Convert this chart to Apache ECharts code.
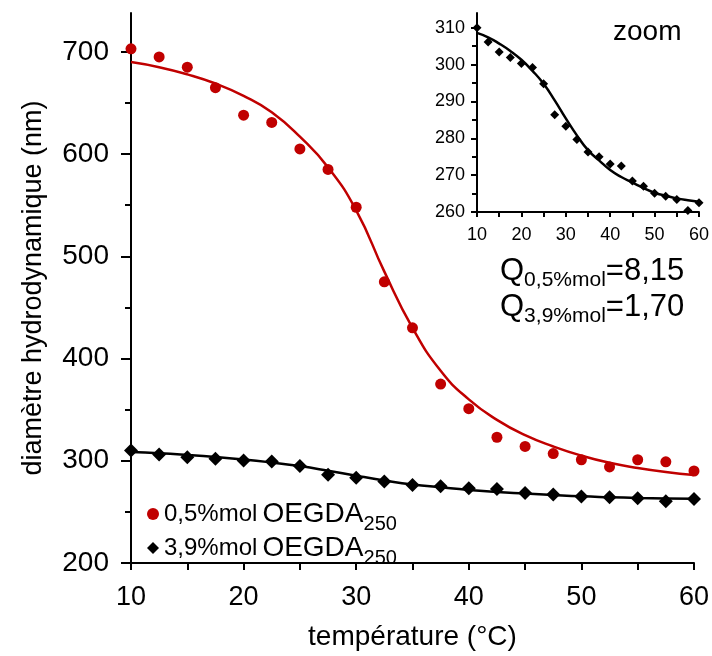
<!DOCTYPE html>
<html><head><meta charset="utf-8">
<script src="https://cdn.jsdelivr.net/npm/echarts@6/dist/echarts.min.js"></script>
<style>html,body{margin:0;padding:0;background:#fff}#c{width:712px;height:656px}</style>
</head><body><div id="c"></div>
<script>
// ---- data ----
const temps = [10,12.5,15,17.5,20,22.5,25,27.5,30,32.5,35,37.5,40,42.5,45,47.5,50,52.5,55,57.5,60];
const diam05 = [703,695,685,665,638,631,605,585,548,475,430,375,351,323,314,307,301,294,301,299,290];
const diam39 = [310.0,306.1,303.4,301.9,300.3,299.2,294.8,286.4,283.3,279.7,276.3,275.0,273.0,272.5,268.4,267.0,265.1,264.3,263.4,260.4,262.5];
const fit05 = [690,685,678,669,657,641,617,587,545,485,430,388,360,340,325,314,305,298,293,289,286];
const fit39 = [308.6,307.4,305.7,303.7,301.3,298.3,294.8,290.3,285.4,280.8,276.8,274.0,271.4,269.5,268.0,266.5,265.2,264.4,263.7,263.2,262.8];
const xLabels = [10,20,30,40,50,60];
const yLabels = [200,300,400,500,600,700];
const yMinorTicks = [250,350,450,550,650];
const insetYLabels = [260,270,280,290,300,310];
const insetYMinor = [265,275,285,295,305];
const name05 = '0,5%mol';
const name39 = '3,9%mol';
const qLines = [['0,5%mol','8,15'],['3,9%mol','1,70']];

const FONT = '"Liberation Sans", Arial, sans-serif';
const RED = '#C00000';
const pairs = (xs, ys) => xs.map((x,i)=>[x, ys[i]]);

const chart = echarts.init(document.getElementById('c'), null, {renderer:'canvas'});
const axisLine = {show:true, lineStyle:{color:'#000', width:2}};
const option = {
  animation:false,
  backgroundColor:'#fff',
  textStyle:{fontFamily:FONT, color:'#000'},
  grid:[
    {left:131, right:16, top:13, bottom:89},
    {left:477, right:13, top:13, bottom:444}
  ],
  xAxis:[
    {gridIndex:0, type:'value', min:10, max:60, interval:5,
     axisLine:axisLine, splitLine:{show:false},
     axisTick:{show:true, length:7, lineStyle:{color:'#000', width:2}},
     axisLabel:{customValues:xLabels, fontSize:27, color:'#000', margin:21, fontFamily:FONT},
     name:'température (°C)', nameLocation:'middle', nameGap:60,
     nameTextStyle:{fontSize:28, color:'#000', fontFamily:FONT}},
    {gridIndex:1, type:'value', min:10, max:60, interval:5,
     axisLine:{show:true, lineStyle:{color:'#000', width:2}}, splitLine:{show:false},
     axisTick:{show:true, length:5, lineStyle:{color:'#000', width:2}},
     axisLabel:{customValues:xLabels, fontSize:18, color:'#000', margin:14, fontFamily:FONT}}
  ],
  yAxis:[
    {gridIndex:0, type:'value', min:200, max:738, position:'left',
     axisLine:axisLine, splitLine:{show:false},
     axisTick:{show:true, customValues:yLabels, length:10, lineStyle:{color:'#000', width:2}},
     axisLabel:{customValues:yLabels, fontSize:28, color:'#000', margin:22, fontFamily:FONT},
     name:'diamètre hydrodynamique (nm)', nameLocation:'middle', nameGap:84,
     nameTextStyle:{fontSize:27, color:'#000', fontFamily:FONT}},
    {gridIndex:0, type:'value', min:200, max:738, position:'left',
     axisLine:{show:false}, splitLine:{show:false},
     axisTick:{show:true, customValues:yMinorTicks, length:6, lineStyle:{color:'#000', width:2}},
     axisLabel:{show:false}},
    {gridIndex:1, type:'value', min:260, max:314, position:'left',
     axisLine:{show:true, lineStyle:{color:'#000', width:2}}, splitLine:{show:false},
     axisTick:{show:true, customValues:insetYLabels, length:6, lineStyle:{color:'#000', width:2}},
     axisLabel:{customValues:insetYLabels, fontSize:18, color:'#000', margin:12, fontFamily:FONT}},
    {gridIndex:1, type:'value', min:260, max:314, position:'left',
     axisLine:{show:false}, splitLine:{show:false},
     axisTick:{show:true, customValues:insetYMinor, length:5, lineStyle:{color:'#000', width:2}},
     axisLabel:{show:false}}
  ],
  legend:{
    orient:'vertical', left:147, top:494, padding:0, itemGap:-6,
    itemWidth:12, itemHeight:12,
    data:[{name:name05, icon:'circle'},{name:name39, icon:'diamond'}],
    formatter: n => '{a|' + n + '}{b|OEGDA}{c|250}',
    textStyle:{
      rich:{
        a:{fontSize:24, fontFamily:FONT, color:'#000', lineHeight:30},
        b:{fontSize:28, fontFamily:FONT, color:'#000', lineHeight:30, padding:[0,0,0,5]},
        c:{fontSize:20, fontFamily:FONT, color:'#000', lineHeight:30, padding:[20,0,0,0]}
      }
    }
  },
  series:[
    {type:'line', name:'fit05', xAxisIndex:0, yAxisIndex:0, data:pairs(temps, fit05), smooth:true,
     showSymbol:false, lineStyle:{color:RED, width:2.5}, itemStyle:{color:RED}, z:2},
    {type:'line', name:'fit39', xAxisIndex:0, yAxisIndex:0, data:pairs(temps, fit39), smooth:true,
     showSymbol:false, lineStyle:{color:'#000', width:2.5}, itemStyle:{color:'#000'}, z:2},
    {type:'scatter', name:name05, xAxisIndex:0, yAxisIndex:0, data:pairs(temps, diam05),
     symbol:'circle', symbolSize:11, itemStyle:{color:RED, opacity:1}, z:3},
    {type:'scatter', name:name39, xAxisIndex:0, yAxisIndex:0, data:pairs(temps, diam39),
     symbol:'diamond', symbolSize:14, itemStyle:{color:'#000', opacity:1}, z:3},
    {type:'line', name:'fit39 zoom', xAxisIndex:1, yAxisIndex:2, data:pairs(temps, fit39), smooth:true,
     showSymbol:false, lineStyle:{color:'#000', width:2.5}, itemStyle:{color:'#000'}, z:2},
    {type:'scatter', name:'zoom pts', xAxisIndex:1, yAxisIndex:2, data:pairs(temps, diam39),
     symbol:'diamond', symbolSize:9, itemStyle:{color:'#000', opacity:1}, z:3}
  ],
  graphic:[
    {type:'text', left:613, top:18, style:{text:'zoom', font:'28px ' + FONT, fill:'#000'}},
    {type:'text', left:500, top:252, style:{
      text: qLines.map(l => '{q|Q}{s|' + l[0] + '}{q|=' + l[1] + '}').join('\n'),
      fill:'#000',
      rich:{
        q:{fontSize:31, fontFamily:FONT, color:'#000', lineHeight:36},
        s:{fontSize:21, fontFamily:FONT, color:'#000', lineHeight:36, padding:[18,0,0,0]}
      }
    }}
  ]
};
chart.setOption(option);
</script>
</body></html>
